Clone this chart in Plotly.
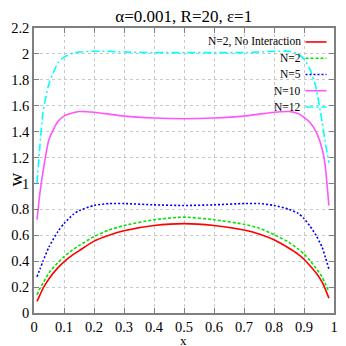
import plotly.graph_objects as go

x = [0.01, 0.02, 0.03, 0.05, 0.08, 0.1, 0.13, 0.15, 0.2, 0.25, 0.3, 0.4, 0.5,
     0.6, 0.7, 0.75, 0.8, 0.85, 0.88, 0.9, 0.92, 0.94, 0.96, 0.97, 0.983]

w_no_int = [0.09, 0.14, 0.19, 0.265, 0.35, 0.395, 0.45, 0.48, 0.555, 0.60, 0.635, 0.675, 0.69,
            0.675, 0.64, 0.61, 0.565, 0.50, 0.455, 0.415, 0.365, 0.31, 0.24, 0.19, 0.115]
w_n2 = [0.14, 0.19, 0.23, 0.31, 0.39, 0.435, 0.49, 0.52, 0.59, 0.64, 0.675, 0.72, 0.74,
        0.72, 0.685, 0.655, 0.605, 0.545, 0.495, 0.455, 0.405, 0.345, 0.28, 0.23, 0.165]
w_n5 = [0.28, 0.34, 0.40, 0.51, 0.63, 0.69, 0.76, 0.79, 0.83, 0.845, 0.845, 0.835, 0.83,
        0.835, 0.845, 0.845, 0.83, 0.80, 0.77, 0.73, 0.67, 0.60, 0.51, 0.44, 0.34]
w_n10 = [0.72, 0.93, 1.09, 1.34, 1.48, 1.52, 1.545, 1.555, 1.55, 1.535, 1.52, 1.505, 1.50,
         1.505, 1.52, 1.535, 1.55, 1.555, 1.54, 1.51, 1.47, 1.40, 1.27, 1.15, 0.83]
w_n12 = [1.0, 1.30, 1.55, 1.77, 1.93, 1.975, 2.005, 2.015, 2.02, 2.02, 2.015, 2.01, 2.01,
         2.01, 2.01, 2.015, 2.02, 2.02, 2.0, 1.96, 1.88, 1.74, 1.48, 1.33, 1.16]

names = ["N=2, No Interaction", "N=2", "N=5", "N=10", "N=12"]
series = [w_no_int, w_n2, w_n5, w_n10, w_n12]
colors = ["#ff0000", "#00e600", "#0000ff", "#ff55ff", "#00ffff"]
dashes = ["solid", "3px,2px", "2px,2px", "solid", "8px,3px,2px,3px"]

serif = "Liberation Serif, Times New Roman, serif"

fig = go.Figure()
for name, y, c, d in zip(names, series, colors, dashes):
    fig.add_trace(go.Scatter(x=x, y=y, mode="lines", name=name, line_shape="spline",
                             line=dict(color=c, width=1.6, dash=d, smoothing=0.6), showlegend=False))

# gnuplot-style key: white box over the grid, text right-aligned, sample to the right
fig.add_shape(type="rect", xref="paper", yref="paper", x0=0.635, x1=0.99, y0=0.66, y1=0.995,
              fillcolor="white", line_width=0, layer="between")
for i, (name, c, d) in enumerate(zip(names, colors, dashes)):
    yy = 0.951 - i * 0.057
    fig.add_annotation(xref="paper", yref="paper", x=0.893, y=yy, text=name, showarrow=False,
                       xanchor="right", yanchor="middle", borderpad=0,
                       font=dict(family=serif, size=11.5, color="black"))
    fig.add_shape(type="line", xref="paper", yref="paper", x0=0.905, x1=0.975, y0=yy, y1=yy,
                  line=dict(color=c, width=1.6, dash=d))

# axis titles as annotations so they sit where gnuplot put them
fig.add_annotation(xref="paper", yref="paper", x=-0.062, y=0.47, text="w", showarrow=False,
                   xanchor="center", yanchor="middle", textangle=-90, borderpad=0,
                   font=dict(family=serif, size=19, color="black"))
fig.add_annotation(xref="paper", yref="paper", x=0.497, y=-0.095, text="x", showarrow=False,
                   xanchor="center", yanchor="middle", borderpad=0,
                   font=dict(family=serif, size=13, color="black"))

axis_common = dict(showgrid=True, gridcolor="#c8c8c8", griddash="dot", gridwidth=1,
                   showline=True, linecolor="#808080", linewidth=1.5, mirror="allticks",
                   ticks="inside", ticklen=5, tickcolor="#808080", zeroline=False,
                   automargin=False, tickfont=dict(family=serif, size=14.5, color="black"))

fig.update_xaxes(range=[0, 1], dtick=0.1, **axis_common)
fig.update_yaxes(range=[0, 2.2], dtick=0.2, **axis_common)

# the page body adds an 8px offset, so the figure is 338px and the margins are shifted
fig.update_layout(
    width=338, height=338,
    margin=dict(l=26, r=12, t=20, b=33),
    plot_bgcolor="white", paper_bgcolor="white",
    title=dict(text="α=0.001, R=20, ε=1", x=0.52, xanchor="center",
               yref="container", y=0.995, yanchor="top", pad=dict(t=0),
               font=dict(family=serif, size=17, color="black")),
)

fig.write_html("out.html")
